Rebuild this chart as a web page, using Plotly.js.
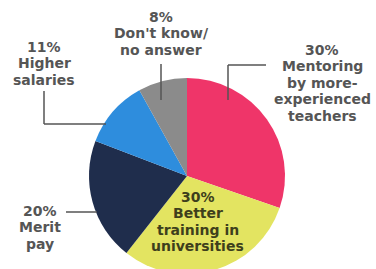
<!DOCTYPE html>
<html>
<head>
<meta charset="utf-8">
<script src="https://cdn.plot.ly/plotly-3.0.1.min.js"></script>
<style>
html,body{margin:0;padding:0;overflow:hidden;background:#fff;}
#chart{width:376px;height:290px;}
</style>
</head>
<body>
<div id="chart"></div>
<script>
// ---- data ----
const categories = ["Mentoring by more-experienced teachers", "Better training in universities", "Merit pay", "Higher salaries", "Don't know/no answer"];
const values = [30, 30, 20, 11, 8];
const labelLines = [
  ["Mentoring", "by more-", "experienced", "teachers"],
  ["Better", "training in", "universities"],
  ["Merit", "pay"],
  ["Higher", "salaries"],
  ["Don't know/", "no answer"]
];
const colors = ["#ef3569", "#e3e461", "#1f2d4c", "#2e8ddd", "#8b8b8b"];

// ---- layout helpers (pixel placement) ----
const W = 376, H = 290;
const px = x => x / W;
const py = y => 1 - y / H;
const cx = 187, cy = 176, R = 98;

// label block placement: [center x, first line y, line step, color]
const labelPos = [
  [322, 50, 16.4, "#555555"],
  [198, 197, 16.4, "#3e3f1c"],
  [40, 211, 16.4, "#555555"],
  [44, 47, 16.4, "#555555"],
  [161, 17, 16.4, "#555555"]
];

const annotations = [];
categories.forEach((c, i) => {
  const [x, y0, step, col] = labelPos[i];
  const lines = [values[i] + "%"].concat(labelLines[i]);
  lines.forEach((t, j) => {
    annotations.push({
      xref: "paper", yref: "paper",
      x: px(x), y: py(y0 + j * step),
      xanchor: "center", yanchor: "middle",
      text: "<b>" + t + "</b>",
      showarrow: false,
      font: {family: "DejaVu Sans", size: 14, color: col}
    });
  });
});

const lineStyle = {color: "#555555", width: 1.5};
const seg = (x0, y0, x1, y1) => ({type: "line", xref: "paper", yref: "paper",
  x0: px(x0), y0: py(y0), x1: px(x1), y1: py(y1), line: lineStyle});
const shapes = [
  seg(228, 65, 266, 65), seg(228, 65, 228, 100),
  seg(161, 64, 161, 100),
  seg(44, 91, 44, 124), seg(44, 124, 106, 124),
  seg(66, 212, 97, 212)
];

const trace = {
  type: "pie",
  labels: categories,
  values: values,
  sort: false,
  direction: "clockwise",
  rotation: 0,
  textinfo: "none",
  hoverinfo: "label+percent",
  marker: {colors: colors, line: {width: 0}},
  domain: {x: [px(cx - R), px(cx + R)], y: [py(cy + R), py(cy - R)]},
  showlegend: false
};

Plotly.newPlot("chart", [trace], {
  width: W, height: H,
  margin: {l: 0, r: 0, t: 0, b: 0},
  paper_bgcolor: "#ffffff",
  showlegend: false,
  annotations: annotations,
  shapes: shapes
}, {displayModeBar: false, staticPlot: true});
</script>
</body>
</html>
